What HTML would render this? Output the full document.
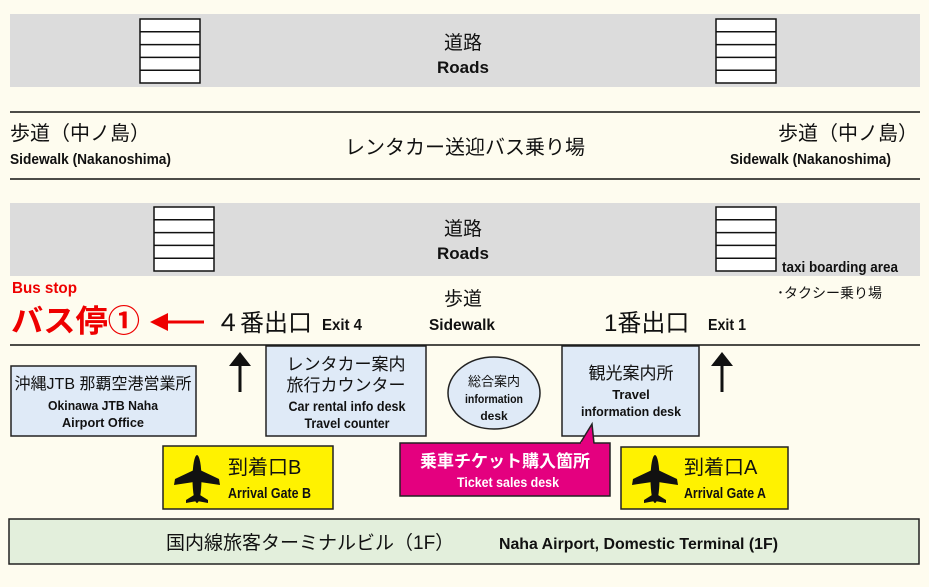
<!DOCTYPE html>
<html><head><meta charset="utf-8"><style>
html,body{margin:0;padding:0;background:#fefcef;}
svg{display:block}
.j{font-family:"Liberation Sans","Noto Sans CJK JP",sans-serif;}
.e{font-family:"Liberation Sans Narrow","Liberation Sans",sans-serif;font-weight:bold;}
</style></head><body>
<svg width="929" height="587" viewBox="0 0 929 587" xmlns="http://www.w3.org/2000/svg">
<defs>
<g id="cw">
<rect x="0" y="0" width="60" height="64" fill="#fff" stroke="#111" stroke-width="1.5"/>
<line x1="0" y1="12.8" x2="60" y2="12.8" stroke="#111" stroke-width="1.5"/>
<line x1="0" y1="25.6" x2="60" y2="25.6" stroke="#111" stroke-width="1.5"/>
<line x1="0" y1="38.4" x2="60" y2="38.4" stroke="#111" stroke-width="1.5"/>
<line x1="0" y1="51.2" x2="60" y2="51.2" stroke="#111" stroke-width="1.5"/>
</g>
<g id="plane" fill="#111">
<ellipse cx="0" cy="24" rx="4.5" ry="24"/>
<polygon points="-3,15 -22,24 -23,30 -3,27 3,27 23,30 22,24 3,15"/>
<polygon points="-3,40 -11,45 -11,48 0,46 11,48 11,45 3,40"/>
</g>
</defs>
<rect width="929" height="587" fill="#fefcef"/>
<rect x="10" y="14" width="910" height="73" fill="#dcdcdc"/>
<rect x="10" y="203" width="910" height="73" fill="#dcdcdc"/>
<use href="#cw" x="140" y="19"/>
<use href="#cw" x="716" y="19"/>
<use href="#cw" x="154" y="207"/>
<use href="#cw" x="716" y="207"/>
<text class="j" x="463" y="49" font-size="19" text-anchor="middle" fill="#111">道路</text>
<text class="e" x="463" y="73" font-size="17" text-anchor="middle" fill="#111">Roads</text>
<text class="j" x="463" y="235" font-size="19" text-anchor="middle" fill="#111">道路</text>
<text class="e" x="463" y="259" font-size="17" text-anchor="middle" fill="#111">Roads</text>
<line x1="10" y1="112" x2="920" y2="112" stroke="#111" stroke-width="1.5"/>
<line x1="10" y1="179" x2="920" y2="179" stroke="#111" stroke-width="1.5"/>
<text class="j" x="10" y="140" font-size="20" fill="#111">歩道（中ノ島）</text>
<text class="e" x="10" y="164" font-size="15" fill="#111" textLength="161" lengthAdjust="spacingAndGlyphs">Sidewalk (Nakanoshima)</text>
<text class="j" x="918" y="140" font-size="20" text-anchor="end" fill="#111">歩道（中ノ島）</text>
<text class="e" x="730" y="164" font-size="15" fill="#111" textLength="161" lengthAdjust="spacingAndGlyphs">Sidewalk (Nakanoshima)</text>
<text class="j" x="465" y="154" font-size="20" text-anchor="middle" fill="#111">レンタカー送迎バス乗り場</text>
<text class="e" x="782" y="272" font-size="15" fill="#111" textLength="116" lengthAdjust="spacingAndGlyphs">taxi boarding area</text>
<text class="j" x="777" y="298" font-size="14" fill="#111">･タクシー乗り場</text>
<text class="e" x="12" y="293" font-size="16" fill="#e00" textLength="65" lengthAdjust="spacingAndGlyphs">Bus stop</text>
<text class="j" x="11" y="332" font-size="31" font-weight="bold" fill="#e00" textLength="129" lengthAdjust="spacingAndGlyphs">バス停①</text>
<line x1="165" y1="322" x2="204" y2="322" stroke="#e00" stroke-width="3"/>
<polygon points="150,322 168,313 168,331" fill="#e00"/>
<text class="j" x="216" y="331" font-size="24" fill="#111">４番出口</text>
<text class="e" x="322" y="330" font-size="16" fill="#111" textLength="40" lengthAdjust="spacingAndGlyphs">Exit 4</text>
<text class="j" x="463" y="305" font-size="19" text-anchor="middle" fill="#111">歩道</text>
<text class="e" x="462" y="330" font-size="16" text-anchor="middle" fill="#111" textLength="66" lengthAdjust="spacingAndGlyphs">Sidewalk</text>
<text class="j" x="604" y="331" font-size="24" fill="#111">1番出口</text>
<text class="e" x="708" y="330" font-size="16" fill="#111" textLength="38" lengthAdjust="spacingAndGlyphs">Exit 1</text>
<line x1="10" y1="345" x2="920" y2="345" stroke="#111" stroke-width="1.5"/>
<line x1="240" y1="362" x2="240" y2="392" stroke="#111" stroke-width="3"/>
<polygon points="240,352 229,366 251,366" fill="#111"/>
<line x1="722" y1="362" x2="722" y2="392" stroke="#111" stroke-width="3"/>
<polygon points="722,352 711,366 733,366" fill="#111"/>
<rect x="11" y="366" width="185" height="70" fill="#dfeaf7" stroke="#222" stroke-width="1.5"/>
<text class="j" x="103" y="389" font-size="16" text-anchor="middle" fill="#111">沖縄JTB 那覇空港営業所</text>
<text class="e" x="103" y="410" font-size="13" text-anchor="middle" fill="#111" textLength="110" lengthAdjust="spacingAndGlyphs">Okinawa JTB Naha</text>
<text class="e" x="103" y="427" font-size="13" text-anchor="middle" fill="#111" textLength="82" lengthAdjust="spacingAndGlyphs">Airport Office</text>
<rect x="266" y="346" width="160" height="90" fill="#dfeaf7" stroke="#222" stroke-width="1.5"/>
<text class="j" x="346" y="370" font-size="17" text-anchor="middle" fill="#111">レンタカー案内</text>
<text class="j" x="346" y="391" font-size="17" text-anchor="middle" fill="#111">旅行カウンター</text>
<text class="e" x="347" y="411" font-size="14" text-anchor="middle" fill="#111" textLength="117" lengthAdjust="spacingAndGlyphs">Car rental info desk</text>
<text class="e" x="347" y="428" font-size="14" text-anchor="middle" fill="#111" textLength="85" lengthAdjust="spacingAndGlyphs">Travel counter</text>
<ellipse cx="494" cy="393" rx="46" ry="36" fill="#dfeaf7" stroke="#222" stroke-width="1.5"/>
<text class="j" x="494" y="386" font-size="13" text-anchor="middle" fill="#111">総合案内</text>
<text class="e" x="494" y="403" font-size="12" text-anchor="middle" fill="#111" textLength="58" lengthAdjust="spacingAndGlyphs">information</text>
<text class="e" x="494" y="420" font-size="12" text-anchor="middle" fill="#111">desk</text>
<rect x="562" y="346" width="137" height="90" fill="#dfeaf7" stroke="#222" stroke-width="1.5"/>
<text class="j" x="631" y="379" font-size="17" text-anchor="middle" fill="#111">観光案内所</text>
<text class="e" x="631" y="399" font-size="13" text-anchor="middle" fill="#111">Travel</text>
<text class="e" x="631" y="416" font-size="13" text-anchor="middle" fill="#111" textLength="100" lengthAdjust="spacingAndGlyphs">information desk</text>
<rect x="400" y="443" width="210" height="53" fill="#e4007f" stroke="#222" stroke-width="1.5"/>
<polygon points="580,444 592,424 594,444" fill="#e4007f"/>
<polyline points="580,443.5 592,424 594,443.5" fill="none" stroke="#222" stroke-width="1.5"/>
<line x1="581" y1="443" x2="593" y2="443" stroke="#e4007f" stroke-width="2"/>
<text class="j" x="505" y="467" font-size="17" font-weight="bold" text-anchor="middle" fill="#fff">乗車チケット購入箇所</text>
<text class="e" x="508" y="487" font-size="14" text-anchor="middle" fill="#fff" textLength="102" lengthAdjust="spacingAndGlyphs">Ticket sales desk</text>
<rect x="163" y="446" width="170" height="63" fill="#fff200" stroke="#222" stroke-width="1.5"/>
<use href="#plane" x="197" y="455"/>
<text class="j" x="228" y="474" font-size="20" fill="#111">到着口B</text>
<text class="e" x="228" y="498" font-size="15" fill="#111" textLength="83" lengthAdjust="spacingAndGlyphs">Arrival Gate B</text>
<rect x="621" y="447" width="167" height="62" fill="#fff200" stroke="#222" stroke-width="1.5"/>
<use href="#plane" x="655" y="455"/>
<text class="j" x="684" y="474" font-size="20" fill="#111">到着口A</text>
<text class="e" x="684" y="498" font-size="15" fill="#111" textLength="82" lengthAdjust="spacingAndGlyphs">Arrival Gate A</text>
<rect x="9" y="519" width="910" height="45" fill="#e3efdc" stroke="#222" stroke-width="1.5"/>
<text class="j" x="166" y="549" font-size="19" fill="#111">国内線旅客ターミナルビル（1F）</text>
<text class="e" x="499" y="549" font-size="16" fill="#111" textLength="279" lengthAdjust="spacingAndGlyphs">Naha Airport, Domestic Terminal (1F)</text>
</svg>
</body></html>
